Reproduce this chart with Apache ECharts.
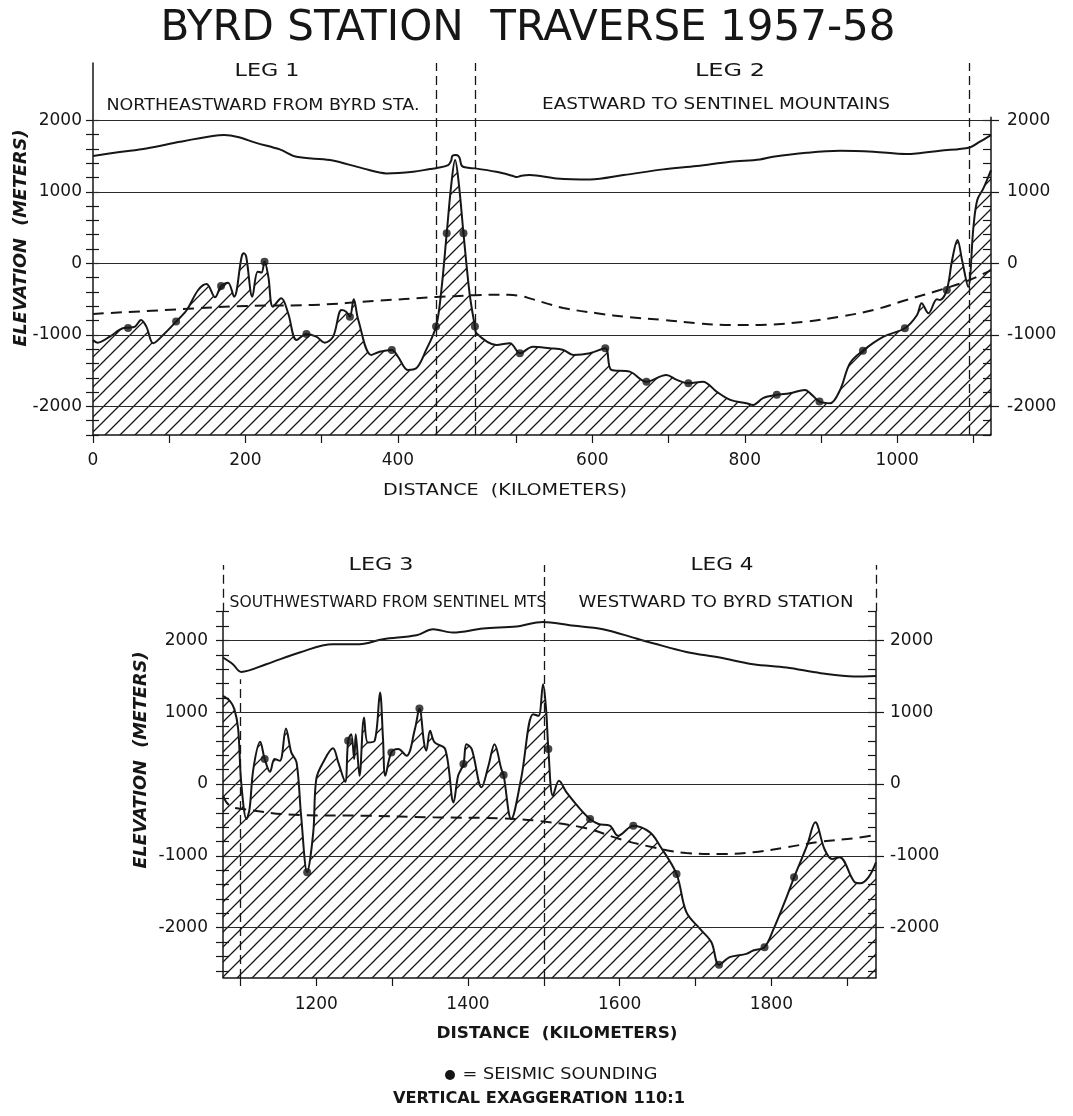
<!DOCTYPE html>
<html>
<head>
<meta charset="utf-8">
<script src="https://cdn.jsdelivr.net/npm/echarts@6/dist/echarts.min.js"></script>
<style>
  html, body { margin: 0; padding: 0; background: #fff; }
  #chart { width: 1073px; height: 1116px; }
</style>
</head>
<body>
<div id="chart"></div>
<script>
// ---------- Profile data: [distance km, elevation m] ----------
// Upper panel: leg 1 (km), the spur drawn as an inset between the two dashed
// lines (offset within the inset), and leg 2 (km).
const leg1Surface = [[0,1500],[35,1555],[70,1606],[114,1698],[157,1778],[172,1792],[190,1766],[214,1684],[245,1592],[267,1489],[311,1443],[354,1327],[385,1257],[420,1279],[442,1318],[450,1330]];
const spurSurface = [[0,1330],[16,1373],[20,1440],[21,1495],[23,1510],[26,1515],[29,1505],[31,1470],[34,1360],[42,1335],[51,1327]];
const leg2Surface = [[474,1279],[495,1225],[501,1205],[507,1225],[518,1233],[553,1187],[597,1173],[641,1233],[693,1313],[737,1359],[781,1419],[820,1452],[837,1489],[881,1545],[925,1573],[969,1559],[1012,1527],[1025,1535],[1056,1573],[1095,1620],[1108,1698],[1123,1792]];

const leg1Bed = [[0,-1071],[6,-1109],[22,-1025],[39,-908],[46,-900],[55,-885],[63,-792],[70,-885],[79,-1117],[92,-1001],[109,-815],[123,-652],[138,-373],[149,-289],[160,-475],[168,-317],[177,-271],[185,-466],[195,92],[198,140],[201,92],[209,-466],[216,-117],[221,-130],[225,22],[230,-187],[236,-606],[247,-489],[256,-698],[267,-1071],[280,-987],[293,-1025],[304,-1109],[315,-1025],[326,-652],[332,-676],[337,-746],[342,-503],[348,-792],[365,-1281],[376,-1235],[392,-1211],[400,-1304],[413,-1490],[424,-1467],[437,-1211],[450,-885]];
const spurBed = [[7,-373],[14,419],[20,1100],[25,1443],[30,1100],[36,419],[44,-419]];
const leg2Bed = [[446,-885],[448,-978],[474,-1141],[492,-1117],[505,-1257],[522,-1165],[544,-1187],[562,-1211],[575,-1281],[597,-1257],[617,-1187],[625,-1490],[649,-1514],[671,-1654],[697,-1560],[711,-1630],[726,-1676],[745,-1654],[763,-1793],[781,-1909],[802,-1955],[811,-1979],[824,-1885],[842,-1839],[859,-1816],[879,-1770],[888,-1839],[898,-1933],[912,-1955],[925,-1770],[938,-1397],[955,-1221],[982,-1025],[1010,-908],[1026,-722],[1032,-559],[1041,-698],[1052,-503],[1056,-513],[1065,-373],[1072,46],[1079,325],[1085,46],[1093,-327],[1100,511],[1105,884],[1113,1047],[1123,1303]];

const leg1Dashed = [[0,-708],[114,-642],[201,-596],[288,-582],[376,-522],[442,-475],[450,-470]];
const spurDashed = [[25,-460]];
const leg2Dashed = [[446,-445],[490,-440],[505,-455],[518,-490],[540,-560],[562,-625],[606,-698],[649,-754],[693,-792],[737,-838],[781,-862],[820,-862],[837,-855],[881,-815],[925,-746],[969,-652],[1012,-513],[1056,-373],[1095,-233],[1123,-94]];

const leg1Soundings = [[46,-905],[109,-815],[168,-317],[225,22],[280,-987],[337,-746],[392,-1211],[450,-885]];
const spurSoundings = [[14,419],[36,419]];
const leg2Soundings = [[446,-885],[505,-1257],[617,-1187],[671,-1654],[726,-1676],[842,-1839],[898,-1933],[955,-1221],[1010,-908],[1065,-373]];

// Lower panel: legs 3 and 4 (km).
const lowerSurface = [[1077,1762],[1090,1669],[1101,1562],[1134,1669],[1178,1832],[1222,1947],[1257,1947],[1288,2017],[1332,2072],[1354,2156],[1380,2110],[1420,2166],[1464,2193],[1499,2257],[1534,2211],[1578,2156],[1622,2026],[1644,1961],[1688,1840],[1732,1762],[1776,1669],[1820,1623],[1865,1544],[1909,1498],[1938,1506]];
const lowerBed = [[1077,1228],[1086,1159],[1092,1043],[1097,765],[1101,24],[1108,-487],[1112,-348],[1117,209],[1126,588],[1132,348],[1139,171],[1145,348],[1152,324],[1160,775],[1167,441],[1174,302],[1180,-441],[1188,-1228],[1196,-672],[1200,70],[1209,302],[1222,497],[1229,302],[1238,32],[1242,603],[1246,695],[1250,348],[1252,695],[1257,116],[1263,928],[1268,580],[1277,603],[1284,1275],[1288,626],[1291,116],[1299,441],[1308,487],[1319,394],[1330,765],[1336,1053],[1342,580],[1345,464],[1350,742],[1356,580],[1370,487],[1381,-255],[1387,116],[1394,278],[1398,556],[1405,487],[1418,-46],[1427,255],[1435,556],[1444,209],[1447,125],[1457,-487],[1470,70],[1486,973],[1493,950],[1499,1391],[1503,1043],[1506,487],[1512,-163],[1520,46],[1530,-115],[1548,-348],[1561,-487],[1572,-556],[1587,-580],[1598,-719],[1618,-580],[1640,-672],[1653,-858],[1675,-1252],[1688,-1784],[1706,-2017],[1721,-2202],[1731,-2517],[1745,-2410],[1767,-2364],[1776,-2318],[1791,-2271],[1803,-2017],[1820,-1576],[1830,-1298],[1847,-858],[1858,-533],[1870,-904],[1880,-1043],[1890,-1019],[1910,-1367],[1917,-1381],[1928,-1298],[1938,-1089]];
const lowerDashed = [[1077,-163],[1086,-302],[1103,-348],[1178,-431],[1266,-441],[1354,-463],[1442,-477],[1495,-515],[1556,-616],[1600,-765],[1644,-880],[1688,-960],[1732,-974],[1776,-950],[1820,-880],[1865,-802],[1909,-755],[1938,-709]];
const lowerSoundings = [[1132,348],[1188,-1228],[1242,603],[1299,441],[1336,1053],[1394,278],[1447,125],[1506,487],[1561,-487],[1618,-580],[1675,-1252],[1731,-2517],[1791,-2271],[1830,-1298]];

// ---------- Axis ticks and labels ----------
const upperTickKm = [0,100,200,300,400,500,600,700,800,900,1000,1100];
const upperLabelKm = [0,200,400,600,800,1000];
const lowerTickKm = [1100,1200,1300,1400,1500,1600,1700,1800,1900];
const lowerLabelKm = [1200,1400,1600,1800];
const elevLabels = [-2000,-1000,0,1000,2000];
const upperElevTicks = [-2400,-2200,-2000,-1800,-1600,-1400,-1200,-1000,-800,-600,-400,-200,0,200,400,600,800,1000,1200,1400,1600,1800,2000];
const lowerElevTicks = [-2600,-2400,-2200,-2000,-1800,-1600,-1400,-1200,-1000,-800,-600,-400,-200,0,200,400,600,800,1000,1200,1400,1600,1800,2000,2200,2400];

// ---------- Layout of the upper distance axis ----------
const SPUR_START = 450;   // end of leg 1, left dashed line
const SPUR_WIDTH = 51;    // width of the inset on the distance axis
const LEG2_SHIFT = 55;    // leg 2 km are drawn this far right of their value
const UPPER_KM_END = 1123;
const UPPER_AXIS_MAX = UPPER_KM_END + LEG2_SHIFT;
const LEG2_END_LINE = 1095 + LEG2_SHIFT;

const toUpperAxis = km => (km > SPUR_START ? km + LEG2_SHIFT : km);
const fromUpperAxis = v => (v > SPUR_START ? v - LEG2_SHIFT : v);

function upperProfile(leg1, spur, leg2) {
  return leg1.map(([d, v]) => [d, v])
    .concat(spur.map(([d, v]) => [SPUR_START + d, v]))
    .concat(leg2.map(([d, v]) => [d + LEG2_SHIFT, v]));
}

const INK = '#161616';
const SANS = "'DejaVu Sans', 'Noto Sans', sans-serif";

// Diagonal hatch tile used for the rock fill
function makeHatch(size) {
  const c = document.createElement('canvas');
  c.width = size; c.height = size;
  const g = c.getContext('2d');
  g.strokeStyle = INK;
  g.lineWidth = 1.25;
  g.beginPath();
  g.moveTo(0, size); g.lineTo(size, 0);
  g.moveTo(-2, 2); g.lineTo(2, -2);
  g.moveTo(size - 2, size + 2); g.lineTo(size + 2, size - 2);
  g.stroke();
  return c;
}
const hatch = { image: makeHatch(15), repeat: 'repeat' };

const labelFont = { color: INK, fontFamily: SANS, fontSize: 17 };
const plainNumber = v => String(v);

function yAxesFor(gridIndex, min, max, ticks, leftMargin, rightMargin, showLeftLine) {
  const base = { gridIndex, type: 'value', min, max, splitLine: { show: false }, minorTick: { show: false } };
  return [
    Object.assign({}, base, {
      position: 'left',
      axisLine: { show: showLeftLine, onZero: false, lineStyle: { color: INK, width: 1.5 } },
      axisTick: { show: true, inside: false, length: 7, customValues: ticks, lineStyle: { color: INK, width: 1.2 } },
      axisLabel: Object.assign({ show: true, margin: leftMargin, customValues: elevLabels, formatter: plainNumber }, labelFont)
    }),
    Object.assign({}, base, {
      position: 'left',
      axisLine: { show: false },
      axisTick: { show: true, inside: true, length: 6, customValues: ticks, lineStyle: { color: INK, width: 1.2 } },
      axisLabel: { show: false }
    }),
    Object.assign({}, base, {
      position: 'right',
      axisLine: { show: false },
      axisTick: { show: true, inside: false, length: 8, customValues: elevLabels, lineStyle: { color: INK, width: 1.2 } },
      axisLabel: Object.assign({ show: true, margin: rightMargin, customValues: elevLabels, formatter: plainNumber }, labelFont)
    }),
    Object.assign({}, base, {
      position: 'right',
      axisLine: { show: false },
      axisTick: { show: true, inside: true, length: 8, customValues: ticks, lineStyle: { color: INK, width: 1.2 } },
      axisLabel: { show: false }
    })
  ];
}

const gridLineStyle = { color: '#2a2a2a', width: 1, type: 'solid' };
const dashedRule = { color: INK, width: 1.3, type: [9, 5] };
const edgeRule = { color: INK, width: 1.5, type: 'solid' };

function vline(x, y0, y1, style) {
  return [{ coord: [x, y0], lineStyle: style }, { coord: [x, y1] }];
}

const upperFrame = elevLabels.map(v => ({ yAxis: v, lineStyle: gridLineStyle })).concat([
  vline(SPUR_START, -2400, 2800, dashedRule),
  vline(SPUR_START + SPUR_WIDTH, -2400, 2800, dashedRule),
  vline(LEG2_END_LINE, -2400, 2800, dashedRule),
  vline(UPPER_AXIS_MAX, -2400, 2050, edgeRule)
]);

const lowerFrame = elevLabels.map(v => ({ yAxis: v, lineStyle: gridLineStyle })).concat([
  vline(1100, -2700, 1460, dashedRule),
  vline(1500, -2700, 3050, dashedRule),
  vline(1077, -2700, 2400, edgeRule),
  vline(1077, 2400, 3050, dashedRule),
  vline(1938, -2700, 2400, edgeRule),
  vline(1938, 2400, 3050, dashedRule)
]);

function profileSeries(xi, yi, bed, surface, dashed, soundings, frame) {
  return [
    {
      type: 'line', xAxisIndex: xi, yAxisIndex: yi, data: bed, smooth: 0.35,
      symbol: 'none', lineStyle: { color: INK, width: 2 },
      areaStyle: { color: hatch, opacity: 1, origin: 'start' }, z: 2, silent: true
    },
    {
      type: 'line', xAxisIndex: xi, yAxisIndex: yi, data: surface, smooth: 0.35,
      symbol: 'none', lineStyle: { color: INK, width: 2 }, z: 3, silent: true, clip: false,
      markLine: { symbol: 'none', silent: true, label: { show: false }, animation: false, data: frame }
    },
    {
      type: 'line', xAxisIndex: xi, yAxisIndex: yi, data: dashed, smooth: 0.4,
      symbol: 'none', lineStyle: { color: INK, width: 2, type: [11, 7] }, z: 3, silent: true
    },
    {
      name: 'SEISMIC SOUNDING', type: 'scatter', xAxisIndex: xi, yAxisIndex: yi, data: soundings,
      symbol: 'circle', symbolSize: 8, itemStyle: { color: INK }, z: 5
    }
  ];
}

// Lettering: each line is stretched along its baseline to the width it spans
const measureCtx = document.createElement('canvas').getContext('2d');
function text(str, cx, cy, font, width, extra) {
  measureCtx.font = font;
  const natural = measureCtx.measureText(str).width || 1;
  return Object.assign({
    type: 'text', x: cx, y: cy, silent: true, scaleX: width / natural,
    style: { text: str, font, fill: INK, align: 'center', verticalAlign: 'middle' }
  }, extra || {});
}

const chart = echarts.init(document.getElementById('chart'), null, { renderer: 'canvas' });

chart.setOption({
  animation: false,
  backgroundColor: '#ffffff',
  grid: [
    { left: 93, top: 63, width: 898, height: 372, outerBoundsMode: 'none', containLabel: false },
    { left: 223, top: 565, width: 653, height: 413, outerBoundsMode: 'none', containLabel: false }
  ],
  xAxis: [
    {
      gridIndex: 0, type: 'value', min: 0, max: UPPER_AXIS_MAX,
      axisLine: { show: true, onZero: false, lineStyle: { color: INK, width: 1.5 } },
      axisTick: { show: true, length: 8, customValues: upperTickKm.map(toUpperAxis), lineStyle: { color: INK, width: 1.2 } },
      axisLabel: Object.assign({ margin: 17, customValues: upperLabelKm.map(toUpperAxis), formatter: v => String(fromUpperAxis(v)) }, labelFont),
      splitLine: { show: false }
    },
    {
      gridIndex: 1, type: 'value', min: 1077, max: 1938,
      axisLine: { show: true, onZero: false, lineStyle: { color: INK, width: 1.5 } },
      axisTick: { show: true, length: 8, customValues: lowerTickKm, lineStyle: { color: INK, width: 1.2 } },
      axisLabel: Object.assign({ margin: 18, customValues: lowerLabelKm, formatter: plainNumber }, labelFont),
      splitLine: { show: false }
    }
  ],
  yAxis: yAxesFor(0, -2400, 2800, upperElevTicks, 11, 16, true)
    .concat(yAxesFor(1, -2700, 3050, lowerElevTicks, 15, 14, false)),
  series: profileSeries(0, 0,
      upperProfile(leg1Bed, spurBed, leg2Bed),
      upperProfile(leg1Surface, spurSurface, leg2Surface),
      upperProfile(leg1Dashed, spurDashed, leg2Dashed),
      upperProfile(leg1Soundings, spurSoundings, leg2Soundings),
      upperFrame)
    .concat(profileSeries(1, 4, lowerBed, lowerSurface, lowerDashed, lowerSoundings, lowerFrame)),
  graphic: [
    text('BYRD STATION  TRAVERSE 1957-58', 528, 29, "43px 'DejaVu Sans Condensed', 'DejaVu Sans', sans-serif", 735),
    text('LEG 1', 267, 71, "18px " + SANS, 65),
    text('NORTHEASTWARD FROM BYRD STA.', 263, 106, "16px " + SANS, 313),
    text('LEG 2', 730, 71, "18px " + SANS, 70),
    text('EASTWARD TO SENTINEL MOUNTAINS', 716, 105, "16px " + SANS, 348),
    text('ELEVATION  (METERS)', 22, 238, "italic bold 17px " + SANS, 217, { rotation: Math.PI / 2 }),
    text('DISTANCE  (KILOMETERS)', 505, 491, "16px " + SANS, 244),
    text('LEG 3', 381, 565, "18px " + SANS, 65),
    text('SOUTHWESTWARD FROM SENTINEL MTS', 388, 603, "15px " + SANS, 317),
    text('LEG 4', 722, 565, "18px " + SANS, 63),
    text('WESTWARD TO BYRD STATION', 716, 603, "16px " + SANS, 275),
    text('ELEVATION  (METERS)', 142, 760, "italic bold 17px " + SANS, 217, { rotation: Math.PI / 2 }),
    text('DISTANCE  (KILOMETERS)', 557, 1034, "bold 16px " + SANS, 241),
    { type: 'circle', silent: true, shape: { cx: 450, cy: 1075, r: 5 }, style: { fill: INK } },
    text('= SEISMIC SOUNDING', 560, 1075, "15px " + SANS, 195),
    text('VERTICAL EXAGGERATION 110:1', 539, 1099, "bold 15px " + SANS, 292)
  ]
});
</script>
</body>
</html>
